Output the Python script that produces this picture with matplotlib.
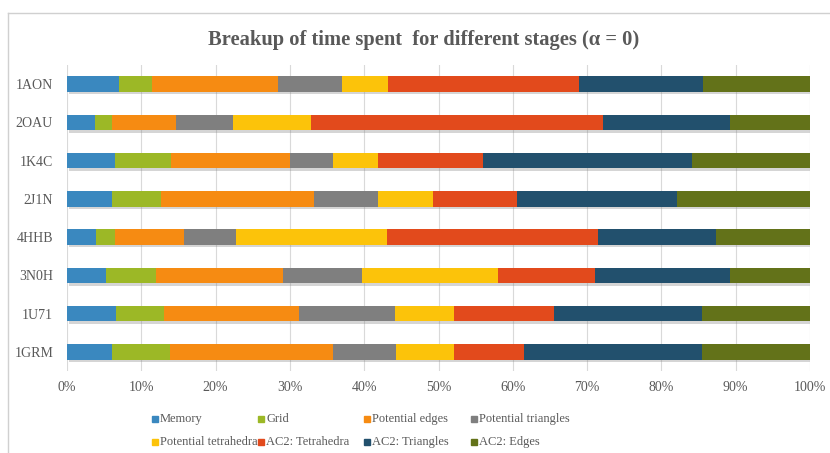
import matplotlib
matplotlib.use("Agg")
import matplotlib.pyplot as plt
from matplotlib.lines import Line2D
from matplotlib.patches import Rectangle
from matplotlib.ticker import PercentFormatter
import matplotlib.patheffects as pe
import numpy as np

plt.rcParams['font.family'] = ['Liberation Serif', 'DejaVu Serif']

proteins = ["1AON", "2OAU", "1K4C", "2J1N", "4HHB", "3N0H", "1U71", "1GRM"]
stages = ["Memory", "Grid", "Potential edges", "Potential triangles",
          "Potential tetrahedra", "AC2: Tetrahedra", "AC2: Triangles", "AC2: Edges"]

memory       = [7.0, 3.8, 6.5, 6.0, 3.9, 5.2, 6.6, 6.1]
grid         = [4.4, 2.3, 7.5, 6.7, 2.6, 6.7, 6.5, 7.8]
pot_edges    = [17.0, 8.6, 16.1, 20.6, 9.3, 17.2, 18.1, 21.9]
pot_tri      = [8.6, 7.7, 5.8, 8.5, 6.9, 10.5, 13.0, 8.5]
pot_tet      = [6.3, 10.4, 6.0, 7.5, 20.4, 18.4, 7.9, 7.8]
ac2_tet      = [25.7, 39.4, 14.1, 11.2, 28.4, 13.0, 13.5, 9.4]
ac2_tri      = [16.7, 17.1, 28.2, 21.6, 15.9, 18.1, 20.0, 24.0]
ac2_edges    = [14.4, 10.7, 15.9, 17.9, 12.6, 10.8, 14.5, 14.5]

series = [memory, grid, pot_edges, pot_tri, pot_tet, ac2_tet, ac2_tri, ac2_edges]
colors = ["#3A88BF", "#9CB826", "#F68B12", "#7F7F7F",
          "#FCC30A", "#E24A1C", "#22506D", "#637219"]

W, H = 830, 453
fig = plt.figure(figsize=(8.3, 4.53), dpi=100)
ax = fig.add_axes([67/W, 1-371/H, (810-67)/W, (371-65)/H])

data = np.array(series, dtype=float)
totals = data.sum(axis=0)
pct = data / totals * 100
y = np.arange(len(proteins))
left = np.zeros(len(proteins))
for vals, c, name in zip(pct, colors, stages):
    bars = ax.barh(y, vals, left=left, height=0.41, color=c, label=name, zorder=3)
    for b in bars:
        b.set_path_effects([pe.SimplePatchShadow(offset=(1.2, -1.8), shadow_rgbFace='#888888', alpha=0.35),
                            pe.Normal()])
    left += vals

ax.set_xlim(0, 100)
ax.set_ylim(len(proteins) - 0.5, -0.5)
ax.set_yticks(y)
ax.set_yticklabels(proteins)
ax.set_xticks(np.arange(0, 101, 10))
ax.xaxis.set_major_formatter(PercentFormatter(decimals=0))
ax.grid(axis='x', color='#D9D9D9', linewidth=0.8, zorder=0)
for s in ax.spines.values():
    s.set_visible(False)
ax.tick_params(axis='both', length=0, labelsize=10, colors='#595959', pad=7)
ax.tick_params(axis='y', pad=10)

fig.text(424/W, 1-40/H, "Breakup of time spent  for different stages (α = 0)",
         ha='center', va='center', fontsize=14.8, fontweight='bold', color='#595959')

# legend laid out row-wise in four fixed columns
col_x = [152, 258, 364, 471]
row_y = [418, 441]
for i, (name, c) in enumerate(zip(stages, colors)):
    r, k = divmod(i, 4)
    x0 = col_x[k]
    yc = row_y[r]
    fig.add_artist(Rectangle((x0/W, 1-(yc+4)/H), 6/W, 6/H, color=c,
                             transform=fig.transFigure))
    fig.text((x0+8)/W, 1-(yc+4)/H, name, ha='left', va='baseline',
             fontsize=9.0, color='#595959')

# screenshot border lines
fig.add_artist(Line2D([8/W, 1], [1-13/H, 1-13/H], color='#D0D0D0', lw=1))
fig.add_artist(Line2D([8/W, 8/W], [0, 1-13/H], color='#D0D0D0', lw=1))

fig.savefig("out.png", dpi=100)
